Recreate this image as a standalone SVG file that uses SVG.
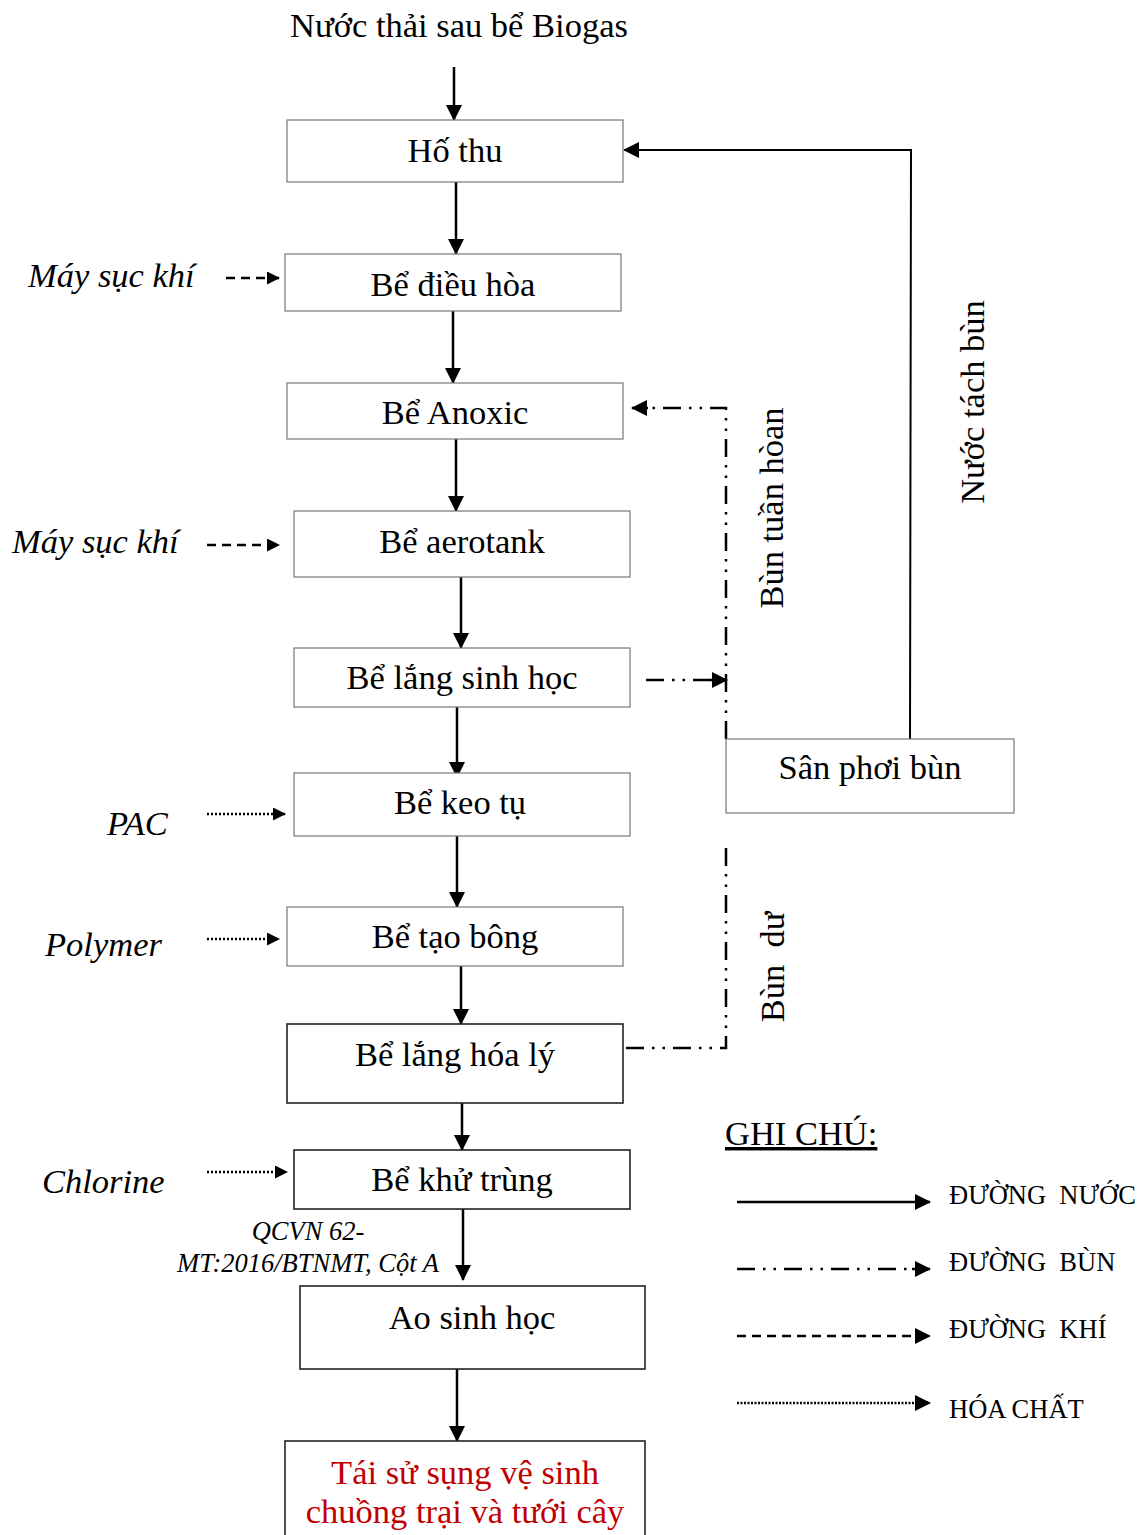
<svg xmlns="http://www.w3.org/2000/svg" width="1142" height="1535" viewBox="0 0 1142 1535">
<defs>
<marker id="ah" markerWidth="13" markerHeight="13" refX="12" refY="6.5" orient="auto" markerUnits="userSpaceOnUse">
<path d="M0,0 L13,6.5 L0,13 Z" fill="#000"/>
</marker>
<marker id="ahs" markerWidth="16" markerHeight="16" refX="15" refY="8" orient="auto" markerUnits="userSpaceOnUse">
<path d="M0,0 L16,8 L0,16 Z" fill="#000"/>
</marker>
</defs>
<style>
text{font-family:"Liberation Serif","Times New Roman",serif;fill:#000}
.bt{font-size:34.5px;text-anchor:middle}
.lt{font-size:34.5px;font-style:italic}
.box{fill:#fff;stroke:#777;stroke-width:1.2}
.boxd{fill:#fff;stroke:#222;stroke-width:1.6}
.w{stroke:#000;stroke-width:2.5;fill:none;marker-end:url(#ahs)}
.air{stroke:#000;stroke-width:2.5;fill:none;stroke-dasharray:9,6;marker-end:url(#ah)}
.chem{stroke:#000;stroke-width:2.5;fill:none;stroke-dasharray:2,2;marker-end:url(#ah)}
.sl{stroke:#000;stroke-width:2.5;fill:none;stroke-dasharray:18,8,2.5,8,2.5,8}
.leg{font-size:26.5px}
</style>
<rect width="1142" height="1535" fill="#fff"/>
<text x="459" y="37" font-size="34.5" text-anchor="middle">Nước thải sau bể Biogas</text>

<g id="connectors">
<line class="w" x1="454" y1="67" x2="454" y2="120"/>
<line class="w" x1="456" y1="182" x2="456" y2="254"/>
<line class="w" x1="453" y1="311" x2="453" y2="383"/>
<line class="w" x1="456" y1="439" x2="456" y2="511"/>
<line class="w" x1="461" y1="577" x2="461" y2="648"/>
<line class="w" x1="457" y1="707" x2="457" y2="777"/>
<line class="w" x1="457" y1="836" x2="457" y2="907"/>
<line class="w" x1="461" y1="966" x2="461" y2="1024"/>
<line class="w" x1="462" y1="1103" x2="462" y2="1150"/>
<line class="w" x1="463" y1="1209" x2="463" y2="1280"/>
<line class="w" x1="457" y1="1369" x2="457" y2="1441"/>
<path d="M910,739 L911,150 L624,150" stroke="#000" stroke-width="2" fill="none" marker-end="url(#ahs)"/>
<line class="air" x1="226" y1="278" x2="279" y2="278"/>
<line class="air" x1="207" y1="545" x2="279" y2="545"/>
<line class="chem" x1="207" y1="814" x2="285" y2="814"/>
<line class="chem" x1="207" y1="939" x2="279" y2="939"/>
<line class="chem" x1="207" y1="1172" x2="287" y2="1172"/>
<path class="sl" d="M726,739 L726,408 L642,408"/>
<path d="M648,408 L632,408" stroke="#000" stroke-width="2.5" marker-end="url(#ahs)"/>
<path class="sl" d="M646,680 L712,680"/>
<path d="M710,680 L727,680" stroke="#000" stroke-width="2.5" marker-end="url(#ahs)"/>
<path class="sl" d="M726,848 L726,1048 L623,1048"/>
</g>

<g id="n-hothu"><rect class="box" x="287" y="120" width="336" height="62"/><text class="bt" x="455" y="162">Hố thu</text></g>
<g id="n-dieuhoa"><rect class="box" x="285" y="254" width="336" height="57"/><text class="bt" x="453" y="296">Bể điều hòa</text></g>
<g id="n-anoxic"><rect class="box" x="287" y="383" width="336" height="56"/><text class="bt" x="455" y="424">Bể Anoxic</text></g>
<g id="n-aerotank"><rect class="box" x="294" y="511" width="336" height="66"/><text class="bt" x="462" y="553">Bể aerotank</text></g>
<g id="n-langsh"><rect class="box" x="294" y="648" width="336" height="59"/><text class="bt" x="462" y="689">Bể lắng sinh học</text></g>
<g id="n-keotu"><rect class="box" x="294" y="773" width="336" height="63"/><text class="bt" x="460" y="814">Bể keo tụ</text></g>
<g id="n-taobong"><rect class="box" x="287" y="907" width="336" height="59"/><text class="bt" x="455" y="948">Bể tạo bông</text></g>
<g id="n-langhl"><rect class="boxd" x="287" y="1024" width="336" height="79"/><text class="bt" x="455" y="1066">Bể lắng hóa lý</text></g>
<g id="n-khutrung"><rect class="boxd" x="294" y="1150" width="336" height="59"/><text class="bt" x="462" y="1191">Bể khử trùng</text></g>
<g id="n-ao"><rect class="boxd" x="300" y="1286" width="345" height="83"/><text class="bt" x="472" y="1329">Ao sinh học</text></g>
<g id="n-taisd"><rect class="boxd" x="285" y="1441" width="360" height="100"/>
<text class="bt" x="465" y="1484" style="fill:#c00000">Tái sử sụng vệ sinh</text>
<text class="bt" x="465" y="1523" style="fill:#c00000">chuồng trại và tưới cây</text></g>
<g id="n-sanphoi"><rect class="box" x="726" y="739" width="288" height="74"/><text class="bt" x="870" y="779">Sân phơi bùn</text></g>

<g id="labels">
<text class="lt" x="28" y="287">Máy sục khí</text>
<text class="lt" x="12" y="553">Máy sục khí</text>
<text class="lt" x="107" y="835">PAC</text>
<text class="lt" x="45" y="956">Polymer</text>
<text class="lt" x="42" y="1193">Chlorine</text>
<text x="308" y="1240" font-size="26.5" font-style="italic" text-anchor="middle">QCVN 62-</text>
<text x="308" y="1272" font-size="26.5" font-style="italic" text-anchor="middle">MT:2016/BTNMT, Cột A</text>
<text transform="translate(984,402) rotate(-90)" font-size="34.5" text-anchor="middle">Nước tách bùn</text>
<text transform="translate(783,508) rotate(-90)" font-size="34.5" text-anchor="middle">Bùn tuần hòan</text>
<text transform="translate(784,967) rotate(-90)" font-size="34.5" text-anchor="middle" xml:space="preserve">Bùn  dư</text>
</g>

<g id="legend">
<text x="725" y="1145" font-size="34.5" text-decoration="underline">GHI CHÚ:</text>
<line x1="737" y1="1202" x2="930" y2="1202" stroke="#000" stroke-width="2.5" marker-end="url(#ahs)"/>
<path class="sl" d="M737,1269 L914,1269"/>
<line x1="912" y1="1269" x2="930" y2="1269" stroke="#000" stroke-width="2.5" marker-end="url(#ahs)"/>
<line x1="737" y1="1336" x2="930" y2="1336" stroke="#000" stroke-width="2.5" stroke-dasharray="9,6" marker-end="url(#ahs)"/>
<line x1="737" y1="1403" x2="930" y2="1403" stroke="#000" stroke-width="2.5" stroke-dasharray="2,1.5" marker-end="url(#ahs)"/>
<text class="leg" x="949" y="1204" xml:space="preserve">ĐƯỜNG  NƯỚC</text>
<text class="leg" x="949" y="1271" xml:space="preserve">ĐƯỜNG  BÙN</text>
<text class="leg" x="949" y="1338" xml:space="preserve">ĐƯỜNG  KHÍ</text>
<text class="leg" x="949" y="1418">HÓA CHẤT</text>
</g>
</svg>
